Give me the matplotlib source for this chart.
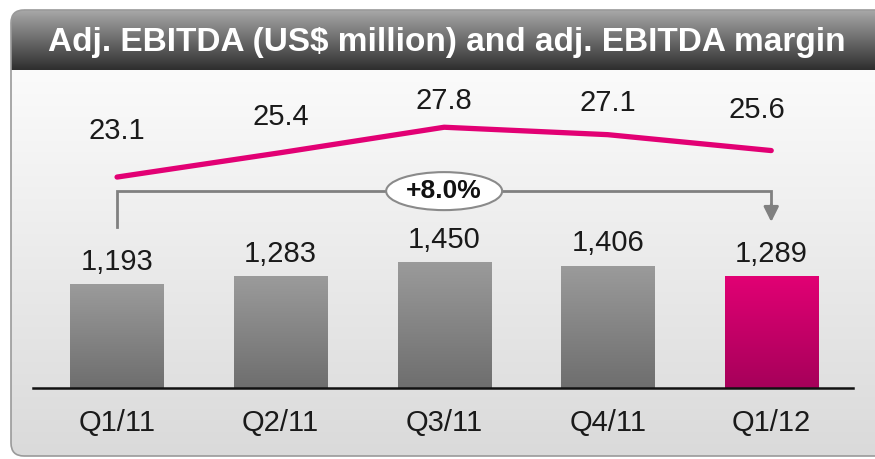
import numpy as np
import matplotlib
matplotlib.use("Agg")
import matplotlib.pyplot as plt
from matplotlib.patches import FancyBboxPatch, Ellipse
from matplotlib.transforms import ScaledTranslation
from matplotlib.colors import LinearSegmentedColormap

quarters = ["Q1/11", "Q2/11", "Q3/11", "Q4/11", "Q1/12"]
ebitda = [1193, 1283, 1450, 1406, 1289]
margin = [23.1, 25.4, 27.8, 27.1, 25.6]
title = "Adj. EBITDA (US$ million) and adj. EBITDA margin"

MAGENTA = "#e20074"
W, H = 875, 459

plt.rcParams["font.family"] = ["Liberation Sans", "DejaVu Sans"]

fig = plt.figure(figsize=(W / 100, H / 100), dpi=100)
fig.patch.set_facecolor("white")


def vgrad(ax, extent, top, bottom, clip=None, z=0):
    cmap = LinearSegmentedColormap.from_list("g", [top, bottom])
    img = ax.imshow(np.linspace(0, 1, 256).reshape(-1, 1), cmap=cmap, aspect="auto",
                    extent=extent, origin="upper", zorder=z, interpolation="bicubic")
    if clip is not None:
        img.set_clip_path(clip)
    return img


# background panel in pixel coordinates
bg = fig.add_axes([0, 0, 1, 1])
bg.set_xlim(0, W)
bg.set_ylim(H, 0)
bg.axis("off")

panel = FancyBboxPatch((11, 10), 900, 446, boxstyle="round,pad=0,rounding_size=13",
                       facecolor="none", edgecolor="#9a9a9a", lw=1.2, zorder=3)
bg.add_patch(panel)
vgrad(bg, (11, 911, 456, 70), "#fbfbfb", "#dadada", clip=panel, z=1)
vgrad(bg, (11, 911, 70, 10), "#a8a8a8", "#2e2e2e", clip=panel, z=2)
bg.set_xlim(0, W)
bg.set_ylim(H, 0)
bg.text(447, 43, title, color="white", fontsize=24, fontweight="bold",
        ha="center", va="center", zorder=4)

# bar axes
base_y = 388
px_per_unit = 0.087
ax_h = 308
ax = fig.add_axes([33 / W, (H - base_y) / H, 820 / W, ax_h / H])
ax.patch.set_alpha(0)
ax.set_xlim(-0.514, 4.50)
ax.set_ylim(0, ax_h / px_per_unit)
x = np.arange(len(quarters))

bars = ax.bar(x, ebitda, width=0.57, color="none", zorder=2)
for i, b in enumerate(bars):
    x0, w, h = b.get_x(), b.get_width(), b.get_height()
    if i == len(bars) - 1:
        vgrad(ax, (x0, x0 + w, 0, h), "#e20074", "#a6005a", clip=b, z=2)
    else:
        vgrad(ax, (x0, x0 + w, 0, h), "#9b9b9b", "#6e6e6e", clip=b, z=2)
ax.set_xlim(-0.514, 4.50)
ax.set_ylim(0, ax_h / px_per_unit)

for xi, v in zip(x, ebitda):
    ax.annotate(f"{v:,}", (xi, v), xytext=(0, 16), textcoords="offset points",
                ha="center", va="center", fontsize=21, color="#1a1a1a")

for s in ["top", "right", "left"]:
    ax.spines[s].set_visible(False)
ax.spines["bottom"].set_linewidth(1.8)
ax.spines["bottom"].set_color("#111111")
ax.set_yticks([])
ax.set_xticks(x)
ax.set_xticklabels(quarters, fontsize=21, color="#1a1a1a")
ax.tick_params(axis="x", length=0, pad=15)

# growth bracket
top_y = ebitda[0] + 1070
ax.plot([x[0], x[0], x[-1], x[-1]], [ebitda[0] + 660, top_y, top_y, ebitda[-1] + 800],
        color="#808080", lw=2, zorder=3, solid_joinstyle="miter")
ax.annotate("", xy=(x[-1], ebitda[-1] + 620), xytext=(x[-1], ebitda[-1] + 820),
            arrowprops=dict(arrowstyle="-|>,head_length=0.9,head_width=0.45",
                            color="#808080", lw=2, shrinkA=0, shrinkB=0), zorder=3)
growth = (ebitda[-1] / ebitda[0] - 1) * 100
ell_tr = fig.dpi_scale_trans + ScaledTranslation(x[2], top_y, ax.transData)
ax.add_patch(Ellipse((0, 0), 1.16, 0.38, transform=ell_tr, fc="white",
                     ec="#8a8a8a", lw=1.5, zorder=5))
ax.text(x[2], top_y, f"+{growth:.1f}%", ha="center", va="center", fontsize=19,
        fontweight="bold", color="#111111", zorder=6)

# margin line
ax2 = ax.twinx()
ax2.set_ylim(3.2, 3.2 + ax_h / 10.6)
ax2.axis("off")
ax2.plot(x, margin, color=MAGENTA, lw=3.8, solid_capstyle="round", zorder=3)
label_dy = [33, 26, 19, 23, 29]
label_dx = [0, 0, 0, 0, -10]
for xi, m, dy, dx in zip(x, margin, label_dy, label_dx):
    ax2.annotate(f"{m:.1f}", (xi, m), xytext=(dx, dy), textcoords="offset points",
                 ha="center", va="center", fontsize=21, color="#1a1a1a")

fig.savefig("out.png", dpi=100)
